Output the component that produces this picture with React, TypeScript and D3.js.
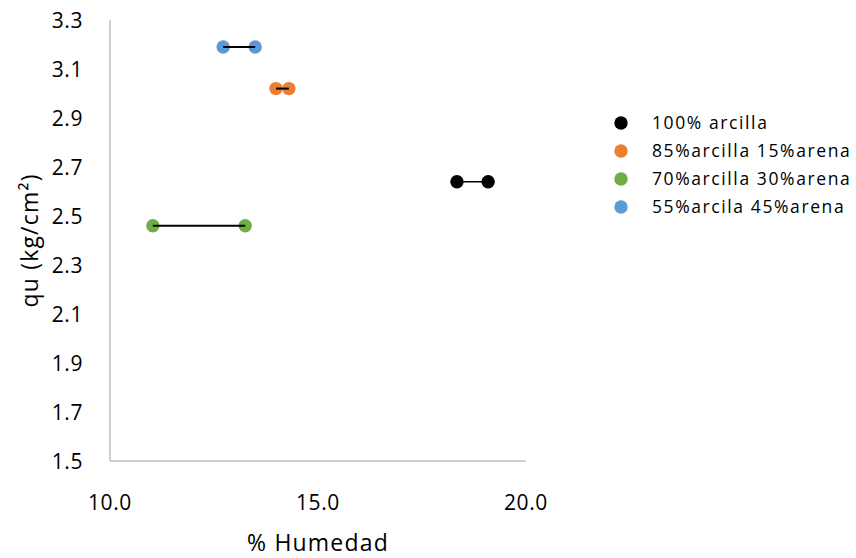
import React from "react";
import * as d3 from "d3";

const seriesNames = ["100% arcilla", "85%arcilla 15%arena", "70%arcilla 30%arena", "55%arcila 45%arena"];
const seriesColors = ["#000000", "#ED7D31", "#70AD47", "#5B9BD5"];
const humedad100 = [18.34, 19.09];
const qu100 = [2.64, 2.64];
const humedad85 = [13.99, 14.3];
const qu85 = [3.02, 3.02];
const humedad70 = [11.03, 13.25];
const qu70 = [2.46, 2.46];
const humedad55 = [12.72, 13.49];
const qu55 = [3.19, 3.19];
const xTicks = [10, 15, 20];
const yTicks = [1.5, 1.7, 1.9, 2.1, 2.3, 2.5, 2.7, 2.9, 3.1, 3.3];

const FONT = "'Open Sans', sans-serif";

export default function App() {
  const x = d3.scaleLinear().domain([10, 20]).range([110, 526]);
  const y = d3.scaleLinear().domain([1.5, 3.3]).range([461, 20]);
  const xs = [humedad100, humedad85, humedad70, humedad55];
  const ys = [qu100, qu85, qu70, qu55];
  const lineW = [1.5, 2, 2, 2];
  const line = d3
    .line<[number, number]>()
    .x((d) => x(d[0]))
    .y((d) => y(d[1]));
  const r = 6.7;
  return (
    <svg
      width={856}
      height={558}
      style={{ position: "absolute", left: 0, top: 0, background: "#fff" }}
      fontFamily={FONT}
    >
      <rect width={856} height={558} fill="#fff" />
      {/* axes */}
      <line x1={x(10)} x2={x(10)} y1={y(3.3)} y2={y(1.5)} stroke="#bfbfbf" strokeWidth={1.5} />
      <line x1={x(10)} x2={x(20)} y1={y(1.5)} y2={y(1.5)} stroke="#bfbfbf" strokeWidth={1.5} />
      {yTicks.map((t) => (
        <text key={t} x={83} y={y(t) + 7.5} textAnchor="end" fontSize={21} letterSpacing={0.6} fill="#000">
          {t.toFixed(1)}
        </text>
      ))}
      {xTicks.map((t) => (
        <text key={t} x={x(t)} y={510} textAnchor="middle" fontSize={21} letterSpacing={0.6} fill="#000">
          {t.toFixed(1)}
        </text>
      ))}
      <text x={318} y={551} textAnchor="middle" fontSize={23} letterSpacing={1.2} fill="#000">
        % Humedad
      </text>
      <text
        transform={`translate(38, ${(y(3.3) + y(1.5)) / 2}) rotate(-90)`}
        textAnchor="middle"
        fontSize={23}
        letterSpacing={1.2}
        fill="#000"
      >
        qu (kg/cm²)
      </text>
      {/* points */}
      {xs.map((sx, i) =>
        sx.map((v, j) => (
          <circle key={`${i}-${j}`} cx={x(v)} cy={y(ys[i][j])} r={r} fill={seriesColors[i]} />
        ))
      )}
      {/* connecting lines */}
      {xs.map((sx, i) => (
        <path
          key={i}
          d={line(sx.map((v, j) => [v, ys[i][j]] as [number, number])) || ""}
          fill="none"
          stroke="#000"
          strokeWidth={lineW[i]}
        />
      ))}
      {/* legend */}
      {seriesNames.map((n, i) => (
        <g key={n} transform={`translate(621, ${123 + i * 28})`}>
          <circle r={r} fill={seriesColors[i]} />
          <text x={31} y={6} fontSize={17.5} letterSpacing={1.6} fill="#000">
            {n}
          </text>
        </g>
      ))}
    </svg>
  );
}
